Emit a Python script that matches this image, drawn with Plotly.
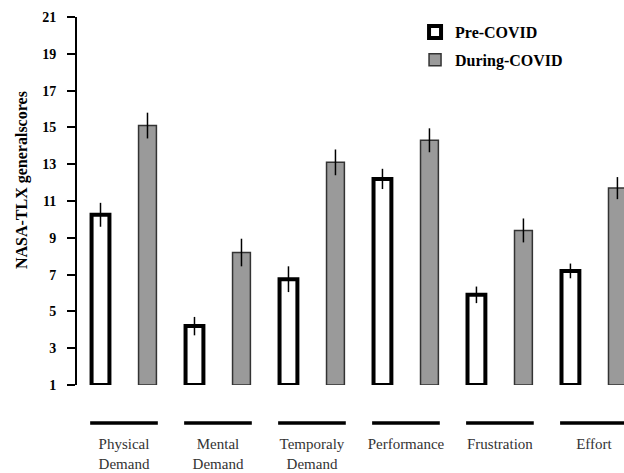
import plotly.graph_objects as go

categories = ["Physical<br>Demand", "Mental<br>Demand", "Temporaly<br>Demand",
              "Performance", "Frustration", "Effort"]
pre_covid = [10.25, 4.2, 6.75, 12.2, 5.9, 7.2]
pre_covid_err = [0.65, 0.5, 0.7, 0.55, 0.45, 0.4]
during_covid = [15.1, 8.2, 13.1, 14.3, 9.4, 11.7]
during_covid_err = [0.7, 0.75, 0.7, 0.65, 0.65, 0.6]
y_ticks = [1, 3, 5, 7, 9, 11, 13, 15, 17, 19, 21]

AXIS_MIN = 1
SERIF = "Liberation Serif, Times New Roman, serif"
idx = list(range(len(categories)))

fig = go.Figure()
fig.add_trace(go.Bar(
    name="Pre-COVID", x=idx, y=[v - AXIS_MIN for v in pre_covid], base=AXIS_MIN,
    marker=dict(color="white", line=dict(color="black", width=4)),
    error_y=dict(type="data", array=pre_covid_err, color="black", thickness=1.5, width=0),
    cliponaxis=False, legendgroup="a"))
fig.add_trace(go.Bar(
    name="During-COVID", x=idx, y=[v - AXIS_MIN for v in during_covid], base=AXIS_MIN,
    marker=dict(color="#9a9a9a", line=dict(color="#333333", width=1.5)),
    error_y=dict(type="data", array=during_covid_err, color="black", thickness=1.5, width=0),
    cliponaxis=False, legendgroup="b"))

shapes = []
for i in idx:
    shapes.append(dict(type="line", xref="x", yref="paper", x0=i - 0.36, x1=i + 0.36,
                       y0=-0.103, y1=-0.103, line=dict(color="black", width=3.5)))

fig.add_annotation(text="NASA-TLX generalscores", textangle=-90, xref="paper", yref="paper",
                   x=-0.1005, y=0.557, xanchor="center", yanchor="middle", showarrow=False,
                   font=dict(family=SERIF, size=16, color="black", weight="bold"))

fig.update_layout(
    width=624, height=473,
    margin=dict(l=77, r=0, t=17, b=88, autoexpand=False),
    paper_bgcolor="white", plot_bgcolor="white",
    barmode="group", bargap=0, bargroupgap=0.62,
    shapes=shapes,
    showlegend=True,
    legend=dict(x=0.618, y=1.005, xanchor="left", yanchor="top", tracegroupgap=4,
                bgcolor="rgba(0,0,0,0)",
                font=dict(family=SERIF, size=16, color="black", weight="bold")),
    xaxis=dict(tickmode="array", tickvals=idx, ticktext=categories, automargin=False,
               range=[-0.5, 5.32], showgrid=False, zeroline=False, showline=False,
               ticks="outside", ticklen=45, tickcolor="rgba(0,0,0,0)",
               tickfont=dict(family=SERIF, size=15, color="#333333")),
    yaxis=dict(range=[1, 21], tickmode="array", tickvals=y_ticks, automargin=False,
               showgrid=False, zeroline=False, showline=True, linecolor="black", linewidth=2,
               ticks="outside", ticklen=8, tickwidth=2, tickcolor="black",
               ticklabelstandoff=8,
               tickfont=dict(family=SERIF, size=14, color="black", weight="bold")),
)

fig.write_html("out.html", config={"displayModeBar": False},
               post_script="document.body.style.margin='0';")
